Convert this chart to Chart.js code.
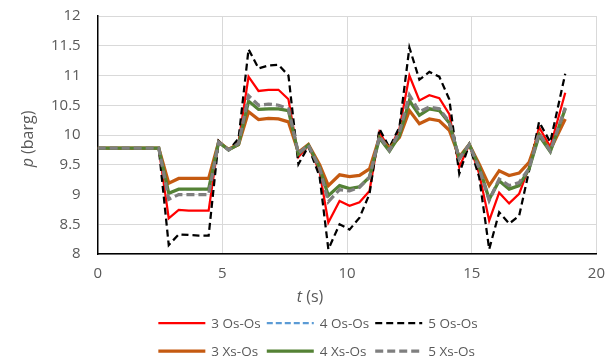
<!DOCTYPE html>
<html>
<head>
<meta charset="utf-8">
<script src="https://cdn.jsdelivr.net/npm/chart.js@4.4.1/dist/chart.umd.min.js"></script>
<style>
  html, body { margin: 0; padding: 0; background: #fff; }
</style>
</head>
<body>
<canvas id="chart" width="616" height="361"></canvas>
<script>
// time in seconds
const times = [0, 2.45, 2.85, 3.25, 3.65, 4.05, 4.45, 4.85, 5.25, 5.65, 6.05, 6.45, 6.85, 7.25, 7.65, 8.05, 8.45, 8.9, 9.25, 9.7,
    10.1, 10.5, 10.9, 11.3, 11.7, 12.1, 12.5, 12.9, 13.3, 13.7, 14.1, 14.5, 14.9, 15.3, 15.7, 16.1, 16.5, 16.9, 17.3, 17.7, 18.15, 18.75]

// pressure in barg
const os3 = [9.78, 9.78, 8.60, 8.74, 8.73, 8.73, 8.73, 9.90, 9.75, 9.88, 10.98, 10.74, 10.76, 10.76, 10.60, 9.63, 9.82, 9.38, 8.53, 8.89,
    8.81, 8.87, 9.06, 10.05, 9.76, 10.10, 11.00, 10.58, 10.67, 10.62, 10.35, 9.46, 9.84, 9.35, 8.56, 9.03, 8.85, 9.01, 9.46, 10.13, 9.80, 10.71]
const os4 = [9.78, 9.78, 9.02, 9.09, 9.09, 9.09, 9.09, 9.88, 9.75, 9.84, 10.57, 10.43, 10.44, 10.44, 10.41, 9.68, 9.83, 9.45, 8.98, 9.15,
    9.10, 9.13, 9.29, 9.95, 9.73, 9.99, 10.58, 10.33, 10.44, 10.41, 10.20, 9.60, 9.84, 9.46, 8.92, 9.23, 9.09, 9.15, 9.43, 9.99, 9.72, 10.44]
const os5 = [9.78, 9.78, 8.15, 8.33, 8.32, 8.31, 8.31, 9.90, 9.74, 9.94, 11.44, 11.12, 11.17, 11.18, 11.00, 9.51, 9.81, 9.30, 8.08, 8.50,
    8.41, 8.61, 9.01, 10.10, 9.79, 10.13, 11.47, 10.93, 11.06, 10.98, 10.60, 9.35, 9.84, 9.29, 8.08, 8.70, 8.51, 8.64, 9.40, 10.22, 9.88, 11.03]
const xs3 = [9.78, 9.78, 9.19, 9.27, 9.27, 9.27, 9.27, 9.88, 9.76, 9.84, 10.39, 10.26, 10.28, 10.27, 10.22, 9.71, 9.84, 9.50, 9.15, 9.33,
    9.30, 9.32, 9.43, 9.96, 9.78, 9.96, 10.41, 10.19, 10.27, 10.24, 10.08, 9.63, 9.84, 9.51, 9.15, 9.40, 9.32, 9.36, 9.54, 10.02, 9.75, 10.27]
const xs4 = [9.78, 9.78, 9.02, 9.09, 9.09, 9.09, 9.09, 9.88, 9.75, 9.84, 10.57, 10.43, 10.44, 10.44, 10.41, 9.68, 9.83, 9.45, 8.98, 9.15,
    9.10, 9.13, 9.29, 9.95, 9.73, 9.99, 10.58, 10.33, 10.44, 10.41, 10.20, 9.60, 9.84, 9.46, 8.92, 9.23, 9.09, 9.15, 9.43, 9.99, 9.72, 10.44]
const xs5 = [9.78, 9.78, 8.92, 9.00, 9.00, 9.00, 9.00, 9.88, 9.75, 9.86, 10.66, 10.50, 10.52, 10.50, 10.44, 9.69, 9.83, 9.44, 8.88, 9.08,
    9.06, 9.12, 9.29, 9.98, 9.74, 10.05, 10.67, 10.39, 10.47, 10.44, 10.22, 9.60, 9.84, 9.44, 8.90, 9.26, 9.15, 9.20, 9.44, 10.03, 9.73, 10.46]

const labels = ['3 Os-Os', '4 Os-Os', '5 Os-Os', '3 Xs-Os', '4 Xs-Os', '5 Xs-Os']
const series = [os3, os4, os5, xs3, xs4, xs5]
const colors = ['#ff0000', '#5b9bd5', '#000000', '#c55a11', '#548235', '#7f7f7f']
const widths = [2.25, 2.25, 2.25, 3.25, 3.25, 3.25]
const dashes = [[], [6, 3], [7, 4], [], [], [8, 4]]

const textColor = '#595959'
const font = '"Open Sans", sans-serif'

// legend in two rows of three, like the original
const legendRows = [[0, 1, 2], [3, 4, 5]]

const legendPlugin = {
    id: 'bottomLegend',
    afterDraw(chart) {
        const ctx = chart.ctx
        const lineLen = 47, gap = 6, spacing = 6
        const rowY = [323, 351]
        ctx.save()
        ctx.font = '13.5px ' + font
        ctx.textBaseline = 'middle'
        // column widths shared by both rows
        const colW = [0, 1, 2].map(c => Math.max(...legendRows.map(r => ctx.measureText(labels[r[c]]).width)))
        const total = colW.reduce((a, b) => a + b, 0) + 3 * (lineLen + gap) + 2 * spacing
        legendRows.forEach((row, r) => {
            let x = 318 - total / 2
            row.forEach((i, c) => {
                const ds = chart.data.datasets[i]
                ctx.strokeStyle = ds.borderColor
                ctx.lineWidth = ds.borderWidth
                ctx.setLineDash(ds.borderDash)
                ctx.beginPath()
                ctx.moveTo(x, rowY[r])
                ctx.lineTo(x + lineLen, rowY[r])
                ctx.stroke()
                ctx.setLineDash([])
                ctx.fillStyle = textColor
                ctx.fillText(ds.label, x + lineLen + gap, rowY[r] + 1)
                x += lineLen + gap + colW[c] + spacing
            })
        })
        ctx.restore()
    }
}

// axis titles with an italic symbol
function drawMixed(ctx, parts, cx, cy) {
    let total = 0
    parts.forEach(p => { ctx.font = p[1]; total += ctx.measureText(p[0]).width })
    let x = cx - total / 2
    parts.forEach(p => {
        ctx.font = p[1]
        ctx.fillText(p[0], x, cy)
        x += ctx.measureText(p[0]).width
    })
}

const titlePlugin = {
    id: 'axisTitles',
    afterDraw(chart) {
        const ctx = chart.ctx
        ctx.save()
        ctx.fillStyle = textColor
        ctx.textBaseline = 'middle'
        ctx.textAlign = 'left'
        drawMixed(ctx, [['t', 'italic 16px ' + font], [' (s)', '16px ' + font]], 310, 297)
        ctx.translate(28, 139)
        ctx.rotate(-Math.PI / 2)
        drawMixed(ctx, [['p', 'italic 16px ' + font], [' (barg)', '16px ' + font]], 0, 0)
        ctx.restore()
    }
}

const datasets = series.map((vals, i) => ({
    label: labels[i],
    data: vals.map((v, k) => ({ x: times[k], y: v })),
    borderColor: colors[i],
    backgroundColor: colors[i],
    borderWidth: widths[i],
    borderDash: dashes[i],
    pointRadius: 0,
    tension: 0,
    fill: false,
    order: series.length - i   // later series on top
}))

new Chart(document.getElementById('chart'), {
    type: 'line',
    data: { datasets },
    options: {
        responsive: false,
        animation: false,
        layout: { padding: { left: 34, right: 18, top: 16, bottom: 67 } },
        plugins: {
            legend: { display: false },
            tooltip: { enabled: false }
        },
        scales: {
            x: {
                type: 'linear',
                min: 0,
                max: 20,
                ticks: { stepSize: 5, padding: 11, color: textColor, font: { family: font, size: 15 } },
                grid: { color: '#d9d9d9', drawTicks: false },
                border: { color: '#000', width: 1.5 }
            },
            y: {
                min: 8,
                max: 12,
                ticks: {
                    stepSize: 0.5, padding: 17, color: textColor, font: { family: font, size: 15 },
                    callback: v => String(v)
                },
                grid: { color: '#d9d9d9', drawTicks: false },
                border: { color: '#000', width: 1.5 },
                // tick padding should not push the plot top down
                afterFit: s => { s.paddingTop = 0; s.paddingBottom = 0 }
            }
        }
    },
    plugins: [legendPlugin, titlePlugin]
})
</script>
</body>
</html>
